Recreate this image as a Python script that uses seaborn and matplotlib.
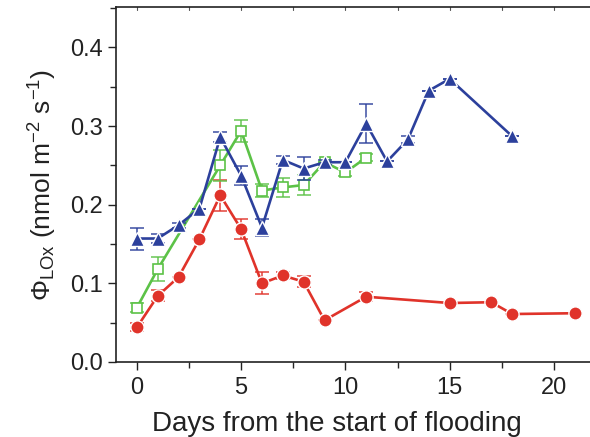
import numpy as np
import pandas as pd
import matplotlib
matplotlib.use("Agg")
import matplotlib.pyplot as plt
from matplotlib.ticker import MultipleLocator
import seaborn as sns

# values
red_days = [0, 1, 2, 3, 4, 5, 6, 7, 8, 9, 11, 15, 17, 18, 21]
red_vals = [0.044, 0.084, 0.108, 0.156, 0.212, 0.169, 0.100, 0.110, 0.102, 0.053, 0.083, 0.075, 0.076, 0.061, 0.062]
red_err = [0.005, 0.007, 0.0, 0.0, 0.020, 0.013, 0.014, 0.004, 0.007, 0.0, 0.006, 0.0, 0.0, 0.0, 0.0]

green_days = [0, 1, 4, 5, 6, 7, 8, 9, 10, 11]
green_vals = [0.069, 0.118, 0.250, 0.294, 0.218, 0.222, 0.225, 0.254, 0.241, 0.260]
green_err = [0.006, 0.015, 0.020, 0.014, 0.008, 0.012, 0.013, 0.0, 0.004, 0.005]

blue_days = [0, 1, 2, 3, 4, 5, 6, 7, 8, 9, 10, 11, 12, 13, 14, 15, 18]
blue_vals = [0.157, 0.157, 0.174, 0.195, 0.286, 0.237, 0.171, 0.257, 0.246, 0.254, 0.254, 0.303, 0.255, 0.283, 0.345, 0.360, 0.287]
blue_err = [0.014, 0.006, 0.003, 0.0, 0.006, 0.012, 0.011, 0.005, 0.015, 0.003, 0.0, 0.025, 0.0, 0.004, 0.0, 0.0, 0.0]

red_c = "#e0332a"
green_c = "#5cc247"
blue_c = "#2c409c"

sns.set_style("ticks")
plt.rcParams["font.family"] = ["Liberation Sans", "DejaVu Sans"]
plt.rcParams["mathtext.fontset"] = "custom"
plt.rcParams["mathtext.rm"] = "Liberation Sans"
plt.rcParams["mathtext.it"] = "Liberation Sans:italic"

fig = plt.figure(figsize=(5.9, 4.37), dpi=100)
ax = fig.add_axes([116 / 590, (437 - 362) / 437, 479.6 / 590, (362 - 7.3) / 437])

def draw(days, vals, err, color, marker, ms, face, z):
    df = pd.DataFrame({"day": days, "val": vals})
    ax.errorbar(days, vals, yerr=err, fmt="none", ecolor=color, elinewidth=1.2,
                capsize=5, capthick=1.2, zorder=z, alpha=0.85)
    sns.lineplot(data=df, x="day", y="val", ax=ax, color=color, linewidth=1.9,
                 marker=marker, markersize=ms, markerfacecolor=face,
                 markeredgecolor=color if face == "white" else "white",
                 markeredgewidth=1.2 if face == "white" else 1.0,
                 zorder=z + 1)

draw(red_days, red_vals, red_err, red_c, "o", 9.5, red_c, 2)
draw(green_days, green_vals, green_err, green_c, "s", 7.5, "white", 4)
draw(blue_days, blue_vals, blue_err, blue_c, "^", 10.5, blue_c, 6)

ax.set_xlim(-1, 22)
ax.set_ylim(0, 0.451)
ax.xaxis.set_major_locator(MultipleLocator(5))
ax.xaxis.set_minor_locator(MultipleLocator(2.5))
ax.yaxis.set_major_locator(MultipleLocator(0.1))
ax.yaxis.set_minor_locator(MultipleLocator(0.05))
ax.yaxis.set_major_formatter(matplotlib.ticker.FormatStrFormatter("%.1f"))
ax.tick_params(axis="both", which="major", direction="out", length=6, width=1, labelsize=17, colors="#222222")
ax.tick_params(axis="both", which="minor", direction="out", length=4, width=1)
ax.tick_params(axis="x", which="major", pad=5)
ax.tick_params(top=False, right=False, which="both")
for s in ["left", "bottom", "top"]:
    ax.spines[s].set_linewidth(1.2)
    ax.spines[s].set_color("#222222")
ax.spines["right"].set_visible(False)

# tiny inward ticks along the top spine
for xt in np.arange(0, 22, 2.5):
    ax.plot([xt, xt], [0.451, 0.448], color="#555555", lw=0.8, clip_on=False)

ax.set_xlabel("Days from the start of flooding", fontsize=20, color="#222222")
ax.xaxis.set_label_coords((337 - 116) / 479.6, -0.137)
ax.set_ylabel(r"$\Phi_{\mathrm{LOx}}$ (nmol m$^{-2}$ s$^{-1}$)", fontsize=19, labelpad=8, color="#222222")

fig.savefig("out.png", dpi=100)
